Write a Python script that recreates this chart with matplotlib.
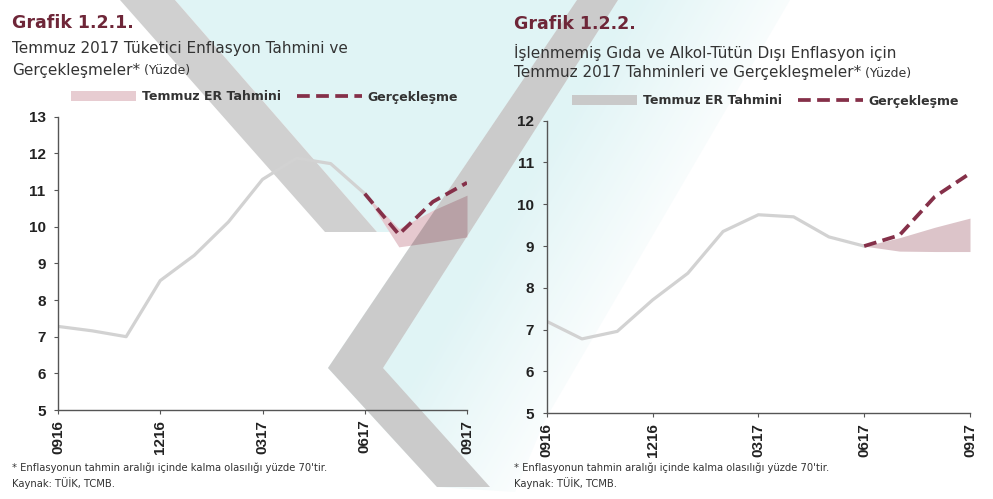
import numpy as np
import matplotlib
matplotlib.use('Agg')
import matplotlib.pyplot as plt
from matplotlib.patches import Polygon, Patch
from matplotlib.lines import Line2D
from matplotlib.text import Annotation

# monthly labels, Sep 2016 - Sep 2017
months = ['0916', '1016', '1116', '1216', '0117', '0217', '0317',
          '0417', '0517', '0617', '0717', '0817', '0917']
shown_ticks = [0, 3, 6, 9, 12]

# Grafik 1.2.1 - consumer inflation
tufe_hist = [7.28, 7.16, 7.00, 8.53, 9.22, 10.13, 11.29, 11.87, 11.72, 10.90]
tufe_actual = [10.90, 9.79, 10.68, 11.20]
tufe_band_low = [10.90, 9.45, 9.58, 9.72]
tufe_band_high = [10.90, 9.95, 10.45, 10.86]

# Grafik 1.2.2 - core (ex unprocessed food, alcohol, tobacco)
core_hist = [7.20, 6.78, 6.96, 7.71, 8.35, 9.35, 9.75, 9.70, 9.22, 9.00]
core_actual = [9.00, 9.26, 10.18, 10.74]
core_band_low = [9.00, 8.88, 8.87, 8.87]
core_band_high = [9.00, 9.20, 9.45, 9.67]

W, H = 993, 499
fig = plt.figure(figsize=(W / 100, H / 100), dpi=100)
fig.patch.set_facecolor('white')

# page artwork behind the charts (pixel coords)
bg = fig.add_axes([0, 0, 1, 1], zorder=0)
bg.set_xlim(0, W)
bg.set_ylim(H, 0)
bg.axis('off')
cyan_shape = [(175, 0), (790, 0), (545, 420), (515, 492), (437, 487), (328, 368),
              (420, 232), (377, 232)]
band_a = [(120, 0), (175, 0), (377, 232), (325, 232)]
band_b = [(577, 0), (618, 0), (383, 368), (490, 487), (437, 487), (328, 368)]

# cyan wash, fading out towards its lower-right edge
yy, xx = np.mgrid[0:H, 0:W]
edge = np.array([-420.0, -245.0]) / np.hypot(420, 245)
dist = (xx - 790) * edge[0] + yy * edge[1]
strength = np.clip(0.2 + dist / 170, 0, 1)[..., None]
cyan = np.array([0.88, 0.957, 0.962])
wash = 1 - strength * (1 - cyan)
cyan_patch = Polygon(cyan_shape, closed=True, fc='none', ec='none')
bg.add_patch(cyan_patch)
img = bg.imshow(wash, extent=[0, W, H, 0], interpolation='bilinear', zorder=0.5)
img.set_clip_path(cyan_patch)
bg.set_xlim(0, W)
bg.set_ylim(H, 0)
bg.add_patch(Polygon(band_a, closed=True, fc='#d0d0d0', ec='none', zorder=1))
bg.add_patch(Polygon(band_b, closed=True, fc='white', ec='none', zorder=1))

line_col = '#d2d2d2'
dash_col = '#853049'
axis_col = '#555555'
text_col = '#333333'
title_col = '#6e2638'
dash_style = (0, (3.4, 1.7))
x = np.arange(len(months))


def px_box(left, right, top, bottom):
    return [left / W, 1 - bottom / H, (right - left) / W, (bottom - top) / H]


def draw_panel(rect, hist, actual, low, high, ylim, band_col):
    ax = fig.add_axes(rect, zorder=1)
    ax.set_facecolor('none')
    n = len(hist)
    ax.fill_between(x[n - 1:], low, high, color=band_col, lw=0, zorder=1)
    ax.plot(x[:n], hist, color=line_col, lw=2.3, solid_capstyle='round', zorder=2)
    ax.plot(x[n - 1:], actual, color=dash_col, lw=2.7, ls=dash_style, zorder=3)
    ax.set_xlim(0, 12)
    ax.set_ylim(*ylim)
    ax.set_yticks(range(ylim[0], ylim[1] + 1))
    ax.set_xticks(shown_ticks)
    ax.set_xticklabels([months[i] for i in shown_ticks], rotation=90)
    for s in ['top', 'right']:
        ax.spines[s].set_visible(False)
    for s in ['left', 'bottom']:
        ax.spines[s].set_color(axis_col)
        ax.spines[s].set_linewidth(1.0)
    ax.tick_params(axis='both', length=3, width=0.8, color=axis_col,
                   labelcolor='#222222', labelsize=11)
    ax.tick_params(axis='y', pad=6)
    ax.tick_params(axis='x', pad=4)
    for lab in ax.get_xticklabels() + ax.get_yticklabels():
        lab.set_fontfamily('Liberation Sans')
        lab.set_fontweight('bold')
    return ax


ax1 = draw_panel(px_box(58, 467, 116.7, 410), tufe_hist, tufe_actual,
                 tufe_band_low, tufe_band_high, (5, 13), '#e6c9cf')
ax2 = draw_panel(px_box(546.7, 970, 120.7, 413.3), core_hist, core_actual,
                 core_band_low, core_band_high, (5, 12), '#dcc4c9')

# grey chevron laid as a translucent sheet over the first panel's fan
ax1.add_patch(Polygon(band_b, closed=True, fc='#202020', alpha=0.23, ec='none',
                      transform=bg.transData, clip_on=False, zorder=1.5))

# headers
fig.text(12 / W, 1 - 23 / H, 'Grafik 1.2.1.', fontsize=12.5,
         fontweight='bold', color=title_col, va='center')
fig.text(12 / W, 1 - 49 / H, 'Temmuz 2017 Tüketici Enflasyon Tahmini ve',
         fontsize=11, color=text_col, va='center')
g_left = fig.text(12 / W, 1 - 70 / H, 'Gerçekleşmeler*', fontsize=11,
                  color=text_col, va='center')
fig.text(514 / W, 1 - 24 / H, 'Grafik 1.2.2.', fontsize=12.5,
         fontweight='bold', color=title_col, va='center')
fig.text(514 / W, 1 - 52 / H, 'İşlenmemiş Gıda ve Alkol-Tütün Dışı Enflasyon için',
         fontsize=11, color=text_col, va='center')
g_right = fig.text(514 / W, 1 - 73 / H, 'Temmuz 2017 Tahminleri ve Gerçekleşmeler*',
                   fontsize=11, color=text_col, va='center')
for t in (g_left, g_right):
    fig.add_artist(Annotation(' (Yüzde)', xy=(1, 0.45), xycoords=t,
                              va='center', ha='left', fontsize=9, color=text_col))

# legends
for ax, x0, y0, patch_col in ((ax1, 65, 97, '#e7ccd1'), (ax2, 566, 101, '#c9c9c9')):
    handles = [Patch(facecolor=patch_col, edgecolor='none'),
               Line2D([], [], color=dash_col, lw=2.7, ls=dash_style)]
    ax.legend(handles, ['Temmuz ER Tahmini', 'Gerçekleşme'], ncol=2,
              loc='center left', bbox_to_anchor=(x0 / W, 1 - y0 / H),
              bbox_transform=fig.transFigure, frameon=False, borderpad=0,
              handlelength=5.2, handleheight=0.8, handletextpad=0.45,
              columnspacing=1.3, prop={'size': 9, 'weight': 'bold'},
              labelcolor=text_col)

# notes
for x0 in (12, 514):
    fig.text(x0 / W, 1 - 468 / H,
             "* Enflasyonun tahmin aralığı içinde kalma olasılığı yüzde 70'tir.",
             fontsize=7.2, color=text_col, va='center')
    fig.text(x0 / W, 1 - 483 / H, 'Kaynak: TÜİK, TCMB.', fontsize=7.2,
             color=text_col, va='center')

fig.savefig('out.png', dpi=100, facecolor='white')
